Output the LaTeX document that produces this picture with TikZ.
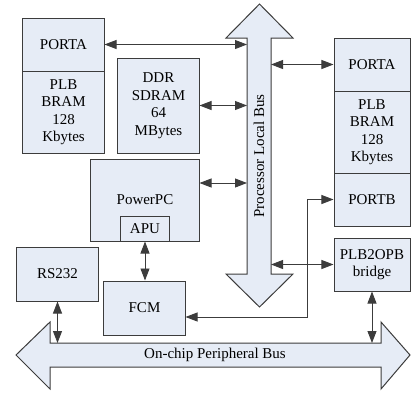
\documentclass[tikz,border=0pt]{standalone}
\usepackage{fontspec}
\setmainfont{Liberation Serif}
\usetikzlibrary{arrows.meta}
\definecolor{boxfill}{RGB}{230,236,246}
\definecolor{edge}{RGB}{60,60,60}
\begin{document}
\begin{tikzpicture}[x=1bp,y=-1bp,
  every node/.style={font=\fontsize{15bp}{17.5bp}\selectfont},
  block/.style={draw=edge, fill=boxfill, line width=1bp, inner sep=0pt, align=center},
  bus/.style={draw=edge, fill=boxfill, line width=1bp, line join=miter},
  link/.style={draw=edge, line width=0.9bp,
    {Triangle[length=12bp,width=9bp]}-{Triangle[length=12bp,width=9bp]}},
]
\useasboundingbox (0,0) rectangle (411,395);

% Processor Local Bus (vertical, two-headed)
\draw[bus] (247,38) -- (226,38) -- (259.5,4) -- (293,38) -- (271,38)
  -- (271,274) -- (293,274) -- (259.5,307) -- (226,274) -- (247,274) -- cycle;
\node[rotate=90] (plbtxt) at (259,156) {Processor Local Bus};
\coordinate (plbL) at (247,0);
\coordinate (plbR) at (271,0);

% On-chip Peripheral Bus (horizontal, two-headed)
\draw[bus] (50,343) -- (381,343) -- (381,322) -- (410,355) -- (381,389)
  -- (381,367) -- (50,367) -- (50,389) -- (16,355) -- (50,322) -- cycle;
\node (opbtxt) at (215,355) {On-chip Peripheral Bus};
\coordinate (opbT) at (0,343);

% Left memory
\node[block, minimum width=81bp, minimum height=53bp] (lpa) at (63.5,44.5) {PORTA};
\node[block, minimum width=81bp, minimum height=82bp] (lbram) at (63.5,112) {PLB\\BRAM\\128\\Kbytes};

% DDR
\node[block, minimum width=81bp, minimum height=95bp] (ddr) at (158.5,105.5) {DDR\\SDRAM\\64\\MBytes};

% PowerPC with APU
\node[block, minimum width=108bp, minimum height=82bp] (ppc) at (145,200) {PowerPC};
\node[block, minimum width=48bp, minimum height=25bp] (apu) at (145,228.5) {APU};

% RS232 and FCM
\node[block, minimum width=81bp, minimum height=54bp] (rs) at (57.5,274) {RS232};
\node[block, minimum width=81bp, minimum height=54bp] (fcm) at (144.5,308) {FCM};

% Right memory (dual port)
\node[block, minimum width=76bp, minimum height=53bp] (rpa) at (372,64.5) {PORTA};
\node[block, minimum width=76bp, minimum height=82bp] (rbram) at (372,132) {PLB\\BRAM\\128\\Kbytes};
\node[block, minimum width=76bp, minimum height=53bp] (portb) at (372,199.5) {PORTB};

% Bridge
\node[block, minimum width=76bp, minimum height=53bp] (bridge) at (372,264.5) {PLB2OPB\\bridge};

% Connections
\draw[link] (lpa.east) -- (lpa.east -| plbL);
\draw[link] (rpa.west) -- (rpa.west -| plbR);
\draw[link] (ddr.east) -- (ddr.east -| plbL);
\draw[link] ([yshift=17bp]ppc.east) -- ([yshift=17bp]ppc.east -| plbL);
\draw[link] (apu.south) -- (apu.south |- fcm.north);
\draw[link] (rs.south) -- (rs.south |- opbT);
\draw[link] (bridge.south) -- (bridge.south |- opbT);
\draw[link] (bridge.west) -- (bridge.west -| plbR);
\coordinate (bend) at (307,0);
\draw[link] (portb.west) -- (portb.west -| bend) |- ([yshift=-9bp]fcm.east);
\end{tikzpicture}
\end{document}
